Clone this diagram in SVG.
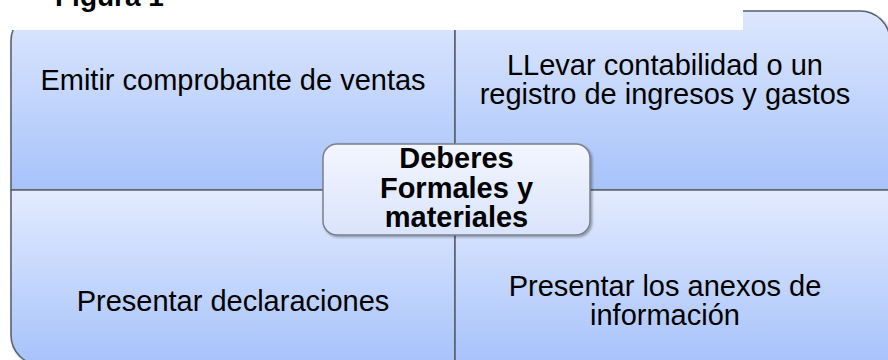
<svg xmlns="http://www.w3.org/2000/svg" width="888" height="360" viewBox="0 0 888 360">
  <style>
    .quad { stroke: #5b6272; stroke-width: 1.6; filter: url(#shadow); }
    .txt { font-family: "Liberation Sans", Arial, sans-serif; font-size: 29px; fill: #000; text-anchor: middle; }
    .bold { font-weight: bold; }
  </style>
  <defs>
    <linearGradient id="gTop" x1="0" y1="0" x2="0" y2="1">
      <stop offset="0" stop-color="#dde7fd"/>
      <stop offset="1" stop-color="#a7c3fa"/>
    </linearGradient>
    <linearGradient id="gBot" x1="0" y1="0" x2="0" y2="1">
      <stop offset="0" stop-color="#e3ebfe"/>
      <stop offset="1" stop-color="#a6c2fa"/>
    </linearGradient>
    <linearGradient id="gCenter" x1="0" y1="0" x2="0" y2="1">
      <stop offset="0" stop-color="#f3f6fe"/>
      <stop offset="1" stop-color="#d9e3fb"/>
    </linearGradient>
    <filter id="shadow" x="-5%" y="-5%" width="110%" height="110%">
      <feDropShadow dx="1.5" dy="1.5" stdDeviation="1.2" flood-color="#000" flood-opacity="0.35"/>
    </filter>
  </defs>

  <g id="quad-tl">
    <path class="quad" fill="url(#gTop)" d="M11,190 L11,41 A30,30 0 0 1 41,11 L455,11 L455,190 Z"/>
    <text class="txt" x="233" y="90">Emitir comprobante de ventas</text>
  </g>
  <g id="quad-tr">
    <path class="quad" fill="url(#gTop)" d="M455,11 L860,11 A30,30 0 0 1 890,41 L890,190 L455,190 Z"/>
    <text class="txt" x="665" y="75">LLevar contabilidad o un</text>
    <text class="txt" x="665" y="104">registro de ingresos y gastos</text>
  </g>
  <g id="quad-bl">
    <path class="quad" fill="url(#gBot)" d="M11,190 L455,190 L455,365 L41,365 A30,30 0 0 1 11,335 Z"/>
    <text class="txt" x="233" y="311">Presentar declaraciones</text>
  </g>
  <g id="quad-br">
    <path class="quad" fill="url(#gBot)" d="M455,190 L890,190 L890,365 L455,365 Z"/>
    <text class="txt" x="665" y="296">Presentar los anexos de</text>
    <text class="txt" x="665" y="325">información</text>
  </g>

  <g id="caption">
    <rect x="0" y="0" width="743" height="30" fill="#ffffff"/>
    <text x="55" y="6" font-family="Liberation Sans, Arial, sans-serif" font-size="28" font-weight="bold" fill="#000">Figura 1</text>
  </g>

  <g id="center">
    <rect x="323" y="144" width="267" height="91" rx="14" ry="14" fill="url(#gCenter)" stroke="#7a808c" stroke-width="1.5" filter="url(#shadow)"/>
    <text class="txt bold" x="456.5" y="168">Deberes</text>
    <text class="txt bold" x="456.5" y="198">Formales y</text>
    <text class="txt bold" x="456.5" y="227">materiales</text>
  </g>
</svg>
